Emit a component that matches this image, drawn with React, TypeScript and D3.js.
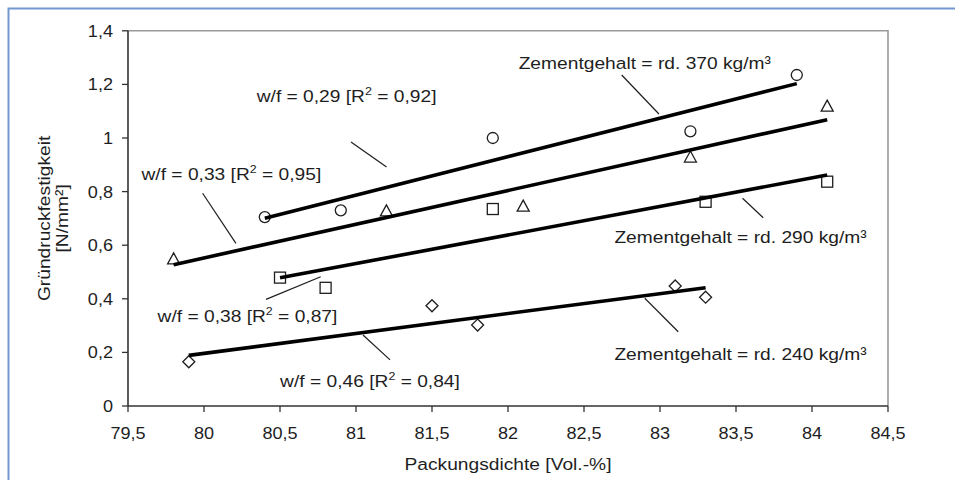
import React from "react";
import * as d3 from "d3";

// Packungsdichte [Vol.-%] and Gründruckfestigkeit [N/mm²] per Zementgehalt
const zement370X = [80.4, 80.9, 81.9, 83.2, 83.9];
const zement370Y = [0.705, 0.73, 1.0, 1.025, 1.235];
const zement330X = [79.8, 81.2, 82.1, 83.2, 84.1];
const zement330Y = [0.549, 0.728, 0.746, 0.929, 1.119];
const zement290X = [80.5, 80.8, 81.9, 83.3, 84.1];
const zement290Y = [0.479, 0.441, 0.735, 0.762, 0.837];
const zement240X = [79.9, 81.5, 81.8, 83.1, 83.3];
const zement240Y = [0.165, 0.374, 0.302, 0.448, 0.406];

const xTicks = [79.5, 80, 80.5, 81, 81.5, 82, 82.5, 83, 83.5, 84, 84.5];
const yTicks = [0, 0.2, 0.4, 0.6, 0.8, 1, 1.2, 1.4];

const xTitle = "Packungsdichte [Vol.-%]";
const yTitle = ["Gründruckfestigkeit", "[N/mm²]"];

// labels: [text before superscript, superscript, text after] or plain text
const wfLabels = [
  ["w/f = 0,29 [R", "2", " = 0,92]"],
  ["w/f = 0,33 [R", "2", " = 0,95]"],
  ["w/f = 0,38 [R", "2", " = 0,87]"],
  ["w/f = 0,46 [R", "2", " = 0,84]"],
];
const zementLabels = [
  "Zementgehalt = rd. 370 kg/m³",
  "Zementgehalt = rd. 290 kg/m³",
  "Zementgehalt = rd. 240 kg/m³",
];

type Shape = "circle" | "triangle" | "square" | "diamond";

const series: { xs: number[]; ys: number[]; shape: Shape }[] = [
  { xs: zement370X, ys: zement370Y, shape: "circle" },
  { xs: zement330X, ys: zement330Y, shape: "triangle" },
  { xs: zement290X, ys: zement290Y, shape: "square" },
  { xs: zement240X, ys: zement240Y, shape: "diamond" },
];

// annotation placement in data units: text anchor + leader line
const wfPlacement = [
  { tx: 80.938, ty: 1.134, l: [80.967, 0.985, 81.201, 0.892] },
  { tx: 80.18, ty: 0.843, l: [79.991, 0.794, 80.21, 0.607] },
  { tx: 80.286, ty: 0.3146, l: [80.408, 0.398, 80.768, 0.4825] },
  { tx: 81.092, ty: 0.0709, l: [81.046, 0.265, 81.224, 0.172] },
];
const zementPlacement = [
  { tx: 82.9, ty: 1.2575, l: [82.748, 1.235, 82.993, 1.0896] },
  { tx: 83.53, ty: 0.608, l: [83.543, 0.775, 83.679, 0.7026] },
  { tx: 83.53, ty: 0.1716, l: [82.9, 0.402, 83.12, 0.277] },
];

const W = 955;
const H = 480;
const left = 128;
const right = 888;
const top = 30.8;
const bottom = 406;
const SX = 1.13;
const FONT = "'Liberation Sans', Arial, Helvetica, sans-serif";
const INK = "#1e1e1e";

const fmt = d3.formatLocale({
  decimal: ",",
  thousands: ".",
  grouping: [3],
  currency: ["", " €"],
}).format("~g");

function linearFit(xs: number[], ys: number[]) {
  const mx = d3.mean(xs)!;
  const my = d3.mean(ys)!;
  let sxy = 0;
  let sxx = 0;
  xs.forEach((x, i) => {
    sxy += (x - mx) * (ys[i] - my);
    sxx += (x - mx) * (x - mx);
  });
  const b = sxy / sxx;
  const a = my - b * mx;
  return (x: number) => a + b * x;
}

function SText(props: {
  x: number;
  y: number;
  anchor?: "start" | "middle" | "end";
  size: number;
  rotate?: number;
  children: React.ReactNode;
}) {
  const { x, y, anchor = "middle", size, rotate = 0, children } = props;
  return (
    <text
      transform={`translate(${x},${y}) rotate(${rotate}) scale(${SX},1)`}
      textAnchor={anchor}
      fontSize={size}
      fontFamily={FONT}
      fill={INK}
    >
      {children}
    </text>
  );
}

function Marker({ shape, cx, cy }: { shape: Shape; cx: number; cy: number }) {
  const common = { fill: "#fff", stroke: INK, strokeWidth: 1.3 };
  if (shape === "circle") return <circle cx={cx} cy={cy} r={5.5} {...common} />;
  if (shape === "square")
    return <rect x={cx - 5.5} y={cy - 5.5} width={11} height={11} {...common} />;
  if (shape === "triangle")
    return (
      <path
        d={`M${cx},${cy - 6}L${cx + 6},${cy + 5}L${cx - 6},${cy + 5}Z`}
        {...common}
      />
    );
  return (
    <path
      d={`M${cx},${cy - 6}L${cx + 6},${cy}L${cx},${cy + 6}L${cx - 6},${cy}Z`}
      {...common}
    />
  );
}

export default function App() {
  const x = d3.scaleLinear().domain([79.5, 84.5]).range([left, right]);
  const y = d3.scaleLinear().domain([0, 1.4]).range([bottom, top]);
  const line = d3
    .line<[number, number]>()
    .x((d) => x(d[0]))
    .y((d) => y(d[1]));

  return (
    <svg
      width={W}
      height={H}
      style={{ position: "absolute", left: 0, top: 0, background: "#fff" }}
    >
      {/* outer frame */}
      <path d={`M8.5,${H}V8.5H${W}`} fill="none" stroke="#7397d2" strokeWidth={2} />

      {/* plot frame top/right */}
      <path
        d={`M${left},${top}H${right}V${bottom}`}
        fill="none"
        stroke="#9a9a9a"
        strokeWidth={1.6}
      />

      {/* y axis */}
      <line x1={left} x2={left} y1={top} y2={bottom} stroke="#333" strokeWidth={1.6} />
      {yTicks.map((t) => (
        <g key={`y${t}`}>
          <line x1={left - 6} x2={left} y1={y(t)} y2={y(t)} stroke="#333" strokeWidth={1.3} />
          <SText x={left - 15} y={y(t) + 6} anchor="end" size={16}>
            {fmt(t)}
          </SText>
        </g>
      ))}

      {/* x axis */}
      <line x1={left} x2={right} y1={bottom} y2={bottom} stroke="#333" strokeWidth={1.6} />
      {xTicks.map((t) => (
        <g key={`x${t}`}>
          <line x1={x(t)} x2={x(t)} y1={bottom} y2={bottom + 6} stroke="#333" strokeWidth={1.3} />
          <SText x={x(t)} y={bottom + 33} size={16}>
            {fmt(t)}
          </SText>
        </g>
      ))}

      {/* axis titles */}
      <SText x={(left + right) / 2} y={470} size={17}>
        {xTitle}
      </SText>
      <SText x={50} y={(top + bottom) / 2} size={17} rotate={-90}>
        {yTitle[0]}
      </SText>
      <SText x={68} y={(top + bottom) / 2} size={17} rotate={-90}>
        {yTitle[1]}
      </SText>

      {/* markers */}
      {series.map((s, si) =>
        s.xs.map((v, i) => (
          <Marker key={`${si}-${i}`} shape={s.shape} cx={x(v)} cy={y(s.ys[i])} />
        ))
      )}

      {/* linear trend lines */}
      {series.map((s, si) => {
        const f = linearFit(s.xs, s.ys);
        const x0 = d3.min(s.xs)!;
        const x1 = d3.max(s.xs)!;
        return (
          <path
            key={`fit${si}`}
            d={line([
              [x0, f(x0)],
              [x1, f(x1)],
            ])!}
            fill="none"
            stroke="#000"
            strokeWidth={3.6}
          />
        );
      })}

      {/* w/f annotations */}
      {wfPlacement.map((p, i) => (
        <g key={`wf${i}`}>
          <line
            x1={x(p.l[0])}
            y1={y(p.l[1])}
            x2={x(p.l[2])}
            y2={y(p.l[3])}
            stroke={INK}
            strokeWidth={1.2}
          />
          <SText x={x(p.tx)} y={y(p.ty)} size={17}>
            {wfLabels[i][0]}
            <tspan dy={-7} fontSize={11}>
              {wfLabels[i][1]}
            </tspan>
            <tspan dy={7}>{wfLabels[i][2]}</tspan>
          </SText>
        </g>
      ))}

      {/* Zementgehalt annotations */}
      {zementPlacement.map((p, i) => (
        <g key={`ze${i}`}>
          <line
            x1={x(p.l[0])}
            y1={y(p.l[1])}
            x2={x(p.l[2])}
            y2={y(p.l[3])}
            stroke={INK}
            strokeWidth={1.2}
          />
          <SText x={x(p.tx)} y={y(p.ty)} size={17}>
            {zementLabels[i]}
          </SText>
        </g>
      ))}
    </svg>
  );
}
